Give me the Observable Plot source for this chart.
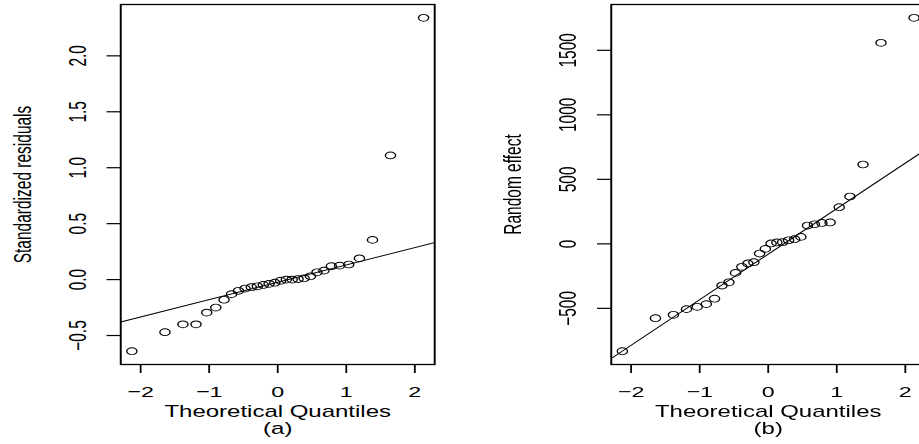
<!DOCTYPE html>
<html><head><meta charset="utf-8">
<script src="https://cdn.jsdelivr.net/npm/d3@7"></script>
<script src="https://cdn.jsdelivr.net/npm/@observablehq/plot@0.6"></script>
<style>
html,body{margin:0;padding:0;background:#fff;overflow:hidden;width:919px;height:444px;}
#clip{position:absolute;left:0;top:0;width:919px;height:444px;overflow:hidden;background:#fff;}
#stage{position:absolute;left:0;top:0;width:613px;height:444px;transform:scaleX(1.5);transform-origin:0 0;}
.panel{position:absolute;top:0;width:306px;height:444px;}
#pa{left:0;}
#pb{left:327.1px;}
</style></head><body>
<div id="clip"><div id="stage"><div class="panel" id="pa"></div><div class="panel" id="pb"></div></div></div>
<script>
// Theoretical normal quantiles (x positions, n = 30)
const quantiles = [-2.128, -1.645, -1.383, -1.192, -1.036, -0.903, -0.783, -0.674, -0.573, -0.477,
  -0.385, -0.297, -0.210, -0.126, -0.042, 0.042, 0.126, 0.210, 0.297, 0.385,
  0.477, 0.573, 0.674, 0.783, 0.903, 1.036, 1.192, 1.383, 1.645, 2.128];
// Panel (a): standardized residuals
const residuals = [-0.64, -0.47, -0.40, -0.40, -0.295, -0.25, -0.18, -0.13, -0.10, -0.08,
  -0.068, -0.06, -0.048, -0.038, -0.028, -0.01, 0.0, 0.0, 0.005, 0.012,
  0.03, 0.065, 0.08, 0.12, 0.125, 0.135, 0.19, 0.355, 1.11, 2.34];
// Panel (b): random effect
const randomEffect = [-832, -576, -550, -506, -488, -467, -425, -323, -298, -225,
  -178, -152, -142, -75, -39, 3, 11, 13, 28, 36,
  54, 142, 152, 162, 166, 284, 367, 615, 1558, 1752];
// Reference (qq) lines: intercept and slope
const lineA = [-0.024, 0.155];
const lineB = [-80, 353];
// Axes
const xTicks = [-2, -1, 0, 1, 2];
const xTickLabels = ["−2", "−1", "0", "1", "2"];
const xDomain = [-2.29, 2.29];
const yTicksA = [-0.5, 0, 0.5, 1, 1.5, 2];
const yTickLabelsA = ["−0.5", "0.0", "0.5", "1.0", "1.5", "2.0"];
const yDomainA = [-0.759, 2.459];
const yTicksB = [-500, 0, 500, 1000, 1500];
const yTickLabelsB = ["−500", "0", "500", "1000", "1500"];
const yDomainB = [-935, 1855];
const xTitle = "Theoretical Quantiles";
const yTitleA = "Standardized residuals";
const yTitleB = "Random effect";
const tagA = "(a)";
const tagB = "(b)";

function panel(values, yDomain, yTicks, yLabels, yTitle, tag, line) {
  const pts = quantiles.map((q, i) => ({q, v: values[i]}));
  const seg = [{x1: xDomain[0], x2: xDomain[1],
    y1: line[0] + line[1] * xDomain[0], y2: line[0] + line[1] * xDomain[1]}];
  return Plot.plot({
    width: 306, height: 444,
    marginLeft: 80, marginRight: 16.7, marginTop: 4, marginBottom: 80,
    x: {domain: xDomain},
    y: {domain: yDomain},
    style: {fontFamily: "'Liberation Sans', Arial, Helvetica, sans-serif", fontSize: "15.5px", color: "black", background: "white", overflow: "visible"},
    marks: [
      Plot.link(seg, {x1: "x1", y1: "y1", x2: "x2", y2: "y2", stroke: "black", strokeWidth: 0.9, clip: true}),
      Plot.dot(pts, {x: "q", y: "v", r: 3.4, stroke: "black", strokeWidth: 0.9, fill: "none"}),
      Plot.frame({stroke: "black", strokeWidth: 1.3}),
      Plot.axisX({ticks: xTicks, tickFormat: d => xTickLabels[xTicks.indexOf(d)], tickSize: 9, tickPadding: 12, label: null, strokeWidth: 1.2}),
      Plot.axisY({ticks: yTicks, tickFormat: d => yLabels[yTicks.indexOf(d)], tickSize: 9, tickPadding: 14.3, tickRotate: -90, label: null, strokeWidth: 1.2}),
      Plot.text([xTitle], {text: d => d, frameAnchor: "bottom", dy: 52.7, lineAnchor: "bottom", fontSize: 16}),
      Plot.text([tag], {text: d => d, frameAnchor: "bottom", dy: 69.4, lineAnchor: "bottom", fontSize: 16}),
      Plot.text([yTitle], {text: d => d, frameAnchor: "left", dx: -60, rotate: -90, lineAnchor: "bottom", textAnchor: "middle", fontSize: 15.5})
    ]
  });
}

document.getElementById("pa").appendChild(panel(residuals, yDomainA, yTicksA, yTickLabelsA, yTitleA, tagA, lineA));
document.getElementById("pb").appendChild(panel(randomEffect, yDomainB, yTicksB, yTickLabelsB, yTitleB, tagB, lineB));
</script>
</body></html>
